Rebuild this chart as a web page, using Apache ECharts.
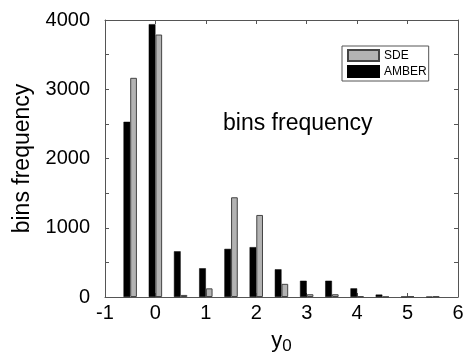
<!DOCTYPE html>
<html><head><meta charset="utf-8">
<script src="https://cdn.jsdelivr.net/npm/echarts@6/dist/echarts.min.js"></script>
<style>html,body{margin:0;padding:0;background:#fff}#c{width:471px;height:353px}</style>
</head><body><div id="c"></div>
<script>
var binCenters = [-0.5, 0, 0.5, 1, 1.5, 2, 2.5, 3, 3.5, 4, 4.5, 5, 5.5];
var amber = [2530, 3940, 660, 415, 695, 720, 400, 235, 235, 125, 35, 8, 5];
var sde   = [3165, 3790, 30, 125, 1440, 1185, 190, 40, 40, 10, 3, 10, 8];
var seriesNames = ['AMBER', 'SDE'];
var xTicks = {min: -1, max: 6, step: 1};
var yTicks = {min: 0, max: 4000, step: 500, labelStep: 1000};

var FONT = 'Liberation Sans, Arial, sans-serif';
var axisColor = '#555';
function pairs(vals){ return binCenters.map(function(x,i){return [x, vals[i]];}); }

var chart = echarts.init(document.getElementById('c'));
chart.setOption({
  animation: false,
  textStyle: {fontFamily: FONT},
  grid: {left: 105, right: 13, top: 20, bottom: 56, containLabel: false, outerBoundsMode: 'none'},
  legend: {
    data: [{name: 'SDE', icon: 'rect'}, {name: 'AMBER', icon: 'rect'}],
    orient: 'vertical', left: 342, top: 46,
    itemWidth: 31, itemHeight: 11, itemGap: 3, padding: [3, 2, 3, 5],
    borderColor: '#555', borderWidth: 1, backgroundColor: '#fff',
    textStyle: {fontFamily: FONT, fontSize: 12, color: '#000'}
  },
  xAxis: [{
    type: 'value', min: xTicks.min, max: xTicks.max, interval: xTicks.step,
    name: '{y|y}{s|0}', nameLocation: 'middle', nameGap: 29,
    nameTextStyle: {rich: {y: {fontSize: 22, fontFamily: FONT, color: '#000'}, s: {fontSize: 17, fontFamily: FONT, color: '#000', verticalAlign: 'bottom', padding: [12,0,0,0]}}},
    axisLine: {show: true, onZero: false, lineStyle: {color: axisColor}},
    axisTick: {show: true, inside: true, length: 4, lineStyle: {color: axisColor}},
    axisLabel: {fontSize: 20, color: '#000', margin: 6, fontFamily: FONT},
    splitLine: {show: false}
  }, {
    type: 'value', position: 'top', min: xTicks.min, max: xTicks.max, interval: xTicks.step,
    axisLine: {show: true, onZero: false, lineStyle: {color: axisColor}},
    axisTick: {show: true, inside: true, length: 4, lineStyle: {color: axisColor}},
    axisLabel: {show: false}, splitLine: {show: false}
  }],
  yAxis: [{
    type: 'value', min: yTicks.min, max: yTicks.max, interval: yTicks.step,
    name: 'bins frequency', nameLocation: 'middle', nameGap: 63, nameRotate: 90,
    nameTextStyle: {fontSize: 23, color: '#000', fontFamily: FONT},
    axisLine: {show: true, onZero: false, lineStyle: {color: axisColor}},
    axisTick: {show: true, inside: true, length: 4, lineStyle: {color: axisColor}},
    axisLabel: {fontSize: 20, color: '#000', margin: 15, fontFamily: FONT,
      formatter: function(v){ return v % yTicks.labelStep === 0 ? String(v) : ''; }},
    splitLine: {show: false}
  }, {
    type: 'value', position: 'right', min: yTicks.min, max: yTicks.max, interval: yTicks.step,
    axisLine: {show: true, onZero: false, lineStyle: {color: axisColor}},
    axisTick: {show: true, inside: true, length: 4, lineStyle: {color: axisColor}},
    axisLabel: {show: false}, splitLine: {show: false}
  }],
  graphic: [{
    type: 'text', left: 223, top: 112,
    style: {text: 'bins frequency', font: '23px ' + FONT, fill: '#000'}
  }],
  series: [{
    name: seriesNames[0], type: 'bar', data: pairs(amber), barWidth: 6.7, barGap: '0%',
    itemStyle: {color: '#000', borderColor: '#000', borderWidth: 0.5}
  }, {
    name: seriesNames[1], type: 'bar', data: pairs(sde), barWidth: 6.7, barGap: '0%',
    itemStyle: {color: '#b3b3b3', borderColor: '#444', borderWidth: 1}
  }]
});
</script></body></html>
